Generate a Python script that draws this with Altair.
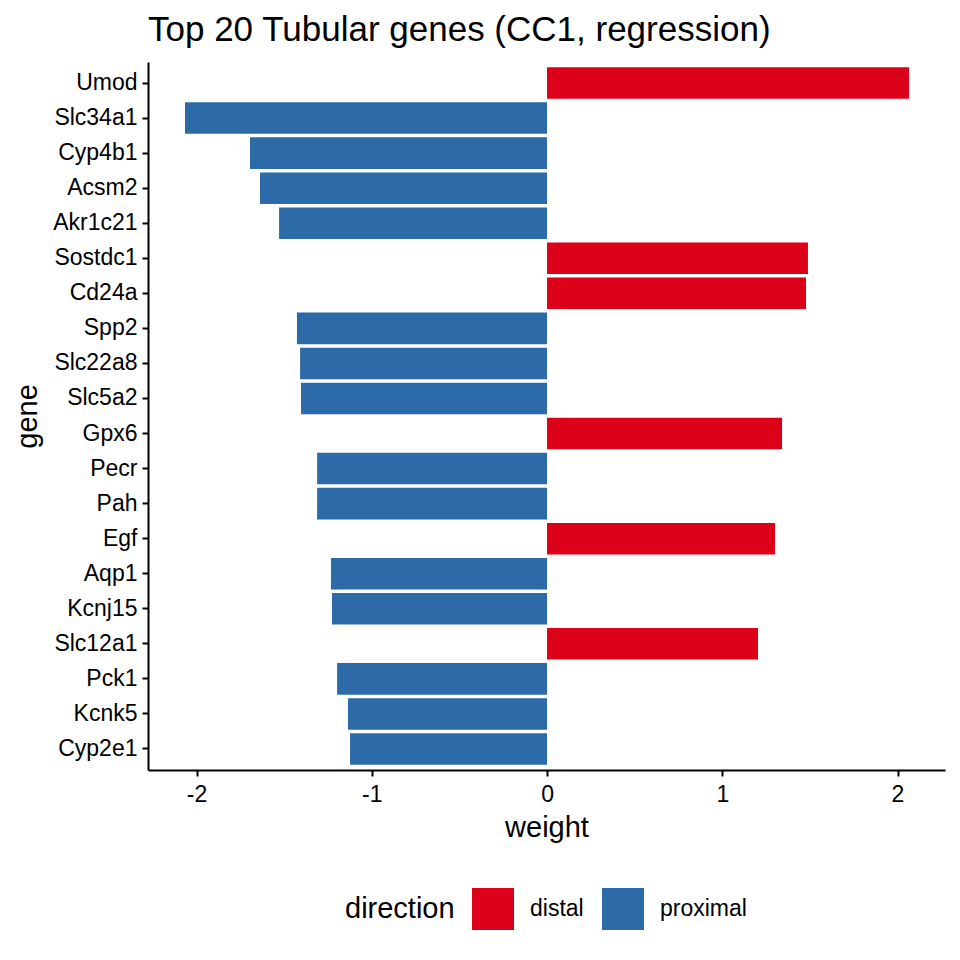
import altair as alt
import pandas as pd

genes = ["Umod", "Slc34a1", "Cyp4b1", "Acsm2", "Akr1c21", "Sostdc1", "Cd24a",
         "Spp2", "Slc22a8", "Slc5a2", "Gpx6", "Pecr", "Pah", "Egf", "Aqp1",
         "Kcnj15", "Slc12a1", "Pck1", "Kcnk5", "Cyp2e1"]
weights = [2.066, -2.066, -1.695, -1.638, -1.529, 1.489, 1.478,
           -1.427, -1.409, -1.404, 1.341, -1.312, -1.312, 1.301, -1.233,
           -1.227, 1.204, -1.198, -1.136, -1.124]
directions = ["distal" if w > 0 else "proximal" for w in weights]
x_ticks = [-2, -1, 0, 1, 2]

df = pd.DataFrame({"gene": genes, "weight": weights, "direction": directions})

FONT = "Liberation Sans"
axis_style = dict(labelFontSize=23, labelColor="black", titleFontSize=29,
                  titleFontWeight="normal", titleColor="black",
                  domainColor="black", domainWidth=2, tickColor="black",
                  tickWidth=2, tickSize=6)

bars = alt.Chart(df).mark_bar().encode(
    y=alt.Y("gene:N", sort=genes, title="gene",
            scale=alt.Scale(paddingInner=0.1, paddingOuter=0.15),
            axis=alt.Axis(labelPadding=5, titlePadding=10, **axis_style)),
    x=alt.X("weight:Q", title="weight",
            scale=alt.Scale(domain=[-2.277, 2.271], nice=False, zero=False),
            axis=alt.Axis(values=x_ticks, grid=False,
                          labelExpr="toString(datum.value)",
                          labelPadding=7, titlePadding=7, **axis_style)),
    color=alt.Color("direction:N",
                    scale=alt.Scale(domain=["distal", "proximal"],
                                    range=["#DC0019", "#2D6AA8"]),
                    legend=alt.Legend(orient="none", legendX=197, legendY=826,
                                      direction="horizontal", titleOrient="left",
                                      titleFontSize=29, titleFontWeight="normal",
                                      titleColor="black", titlePadding=17,
                                      titleBaseline="middle",
                                      labelFontSize=23, labelColor="black",
                                      symbolType="square", symbolSize=1764,
                                      symbolStrokeWidth=0, symbolOpacity=1,
                                      labelOffset=16, columnPadding=18)),
)

chart = bars.properties(
    width=797,
    height=708,
    title=alt.Title("Top 20 Tubular genes (CC1, regression)", anchor="start",
                    frame="group", fontSize=35, fontWeight="normal",
                    color="black", offset=14),
).configure(font=FONT).configure_view(stroke=None)

chart.save("out.html", embed_options={"renderer": "svg", "actions": False})
